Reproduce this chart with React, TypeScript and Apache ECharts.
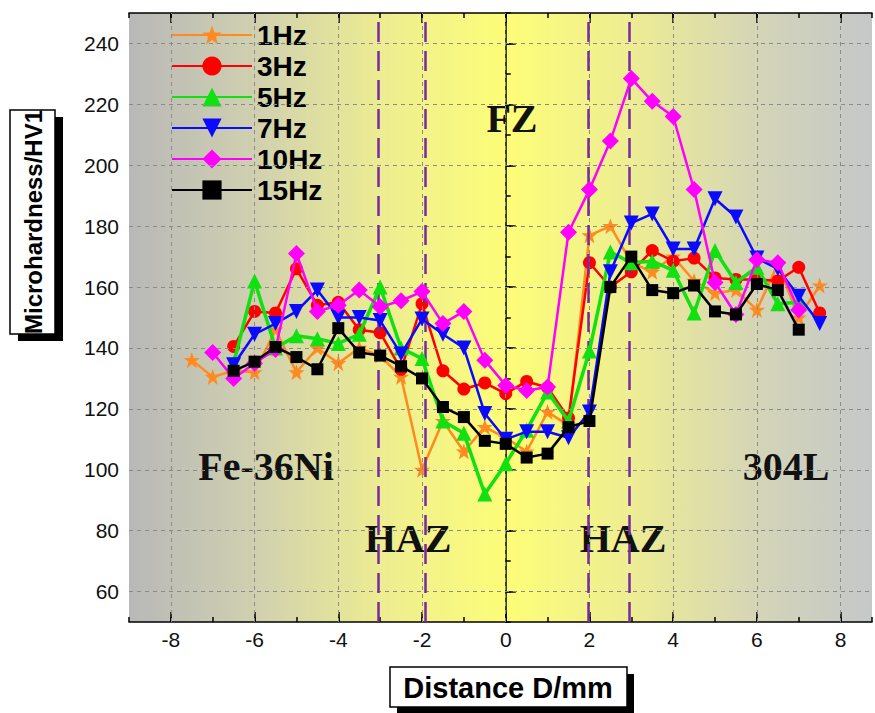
import React, { useEffect, useRef } from 'react';
import * as echarts from 'echarts';

const X_MIN = -9;
const X_MAX = 8.75;
const Y_MIN = 50;
const Y_MAX = 250;
const xMajorTicks = [-8, -6, -4, -2, 0, 2, 4, 6, 8];
const yMajorTicks = [60, 80, 100, 120, 140, 160, 180, 200, 220, 240];
const zoneBoundaries = [-3.05, -1.92, 1.98, 2.96];

const seriesNames = ['1Hz', '3Hz', '5Hz', '7Hz', '10Hz', '15Hz'];

const x1Hz = [-7.5, -7, -6.5, -6, -5.5, -5, -4.5, -4, -3.5, -3, -2.5, -2, -1.5, -1, -0.5, 0, 0.5, 1, 1.5, 2, 2.5, 3, 3.5, 4, 4.5, 5, 5.5, 6, 6.5, 7, 7.5];
const y1Hz = [136, 130.5, 132.5, 132, 146, 132, 140, 135, 140, 137.5, 130.5, 100, 116, 106, 114, 110.5, 106, 119, 114.5, 177, 180, 168, 165, 170, 162, 158, 159, 152.5, 167.5, 150, 160.5];

const x3Hz = [-6.5, -6, -5.5, -5, -4.5, -4, -3.5, -3, -2.5, -2, -1.5, -1, -0.5, 0, 0.5, 1, 1.5, 2, 2.5, 3, 3.5, 4, 4.5, 5, 5.5, 6, 6.5, 7, 7.5];
const y3Hz = [140.5, 152, 151.5, 166, 154, 155, 146, 145, 133, 154.5, 132.5, 126.5, 128.5, 125, 129, 127, 117, 168, 160, 165, 172, 168.5, 169.5, 163, 162.5, 162.5, 162, 166.5, 151.5];

const x5Hz = [-6.5, -6, -5.5, -5, -4.5, -4, -3.5, -3, -2.5, -2, -1.5, -1, -0.5, 0, 0.5, 1, 1.5, 2, 2.5, 3, 3.5, 4, 4.5, 5, 5.5, 6, 6.5, 7];
const y5Hz = [135, 162, 140, 144, 143, 141.5, 144.5, 160, 140, 136.5, 116, 112, 92, 102, 113, 125.5, 116, 139, 171.5, 168, 168.5, 165.5, 151.5, 172, 161.5, 166.5, 154.5, 155];

const x7Hz = [-6.5, -6, -5.5, -5, -4.5, -4, -3.5, -3, -2.5, -2, -1.5, -1, -0.5, 0, 0.5, 1, 1.5, 2, 2.5, 3, 3.5, 4, 4.5, 5, 5.5, 6, 6.5, 7, 7.5];
const y7Hz = [134.5, 144.5, 148, 152, 159, 150, 150, 149, 138, 149.5, 144.5, 140, 118.5, 110, 112.5, 112.5, 110.5, 119, 165, 181, 184, 172.5, 172.5, 189, 183, 169.5, 166, 157, 148];

const x10Hz = [-7, -6.5, -6, -5.5, -5, -4.5, -4, -3.5, -3, -2.5, -2, -1.5, -1, -0.5, 0, 0.5, 1, 1.5, 2, 2.5, 3, 3.5, 4, 4.5, 5, 5.5, 6, 6.5, 7];
const y10Hz = [138.5, 130, 135, 139.5, 171, 152, 154, 159, 153.5, 155.5, 158.5, 148, 152, 136, 127.7, 126, 127.2, 178, 192, 208, 228.5, 221, 216, 192, 161.5, 151, 169, 168, 152.5];

const x15Hz = [-6.5, -6, -5.5, -5, -4.5, -4, -3.5, -3, -2.5, -2, -1.5, -1, -0.5, 0, 0.5, 1, 1.5, 2, 2.5, 3, 3.5, 4, 4.5, 5, 5.5, 6, 6.5, 7];
const y15Hz = [132.5, 135.5, 140.3, 137, 133, 146.5, 138.5, 137.5, 134, 130, 120.6, 117.3, 109.5, 108.5, 104, 105.3, 114, 116, 160, 170, 159, 158, 160.5, 152, 151, 161, 159, 146];

const seriesX = [x1Hz, x3Hz, x5Hz, x7Hz, x10Hz, x15Hz];
const seriesY = [y1Hz, y3Hz, y5Hz, y7Hz, y10Hz, y15Hz];

const regionLabels = ['Fe-36Ni', 'HAZ', 'FZ', 'HAZ', '304L'];

const STAR = 'path://M12,0 L15,8.5 L24,8.5 L17,14 L19.5,23 L12,17.5 L4.5,23 L7,14 L0,8.5 L9,8.5 Z';
const DOWN_TRI = 'path://M0,0 L20,0 L10,17 Z';

const styles = [
  { color: '#ff8a1f', symbol: STAR, size: 16, width: 2.5 },
  { color: '#ff0000', symbol: 'circle', size: 13, width: 2.5 },
  { color: '#11e011', symbol: 'triangle', size: 15, width: 3.5 },
  { color: '#0a0aff', symbol: DOWN_TRI, size: 15, width: 2.5 },
  { color: '#ff00ff', symbol: 'diamond', size: 17, width: 2.5 },
  { color: '#000000', symbol: 'rect', size: 12, width: 2.5 },
];

const SANS = '"Liberation Sans", Arial, sans-serif';
const SERIF = '"Liberation Serif", "Times New Roman", serif';

export default function App() {
  const ref = useRef<HTMLDivElement>(null);

  useEffect(() => {
    if (!ref.current) return;
    const chart = echarts.init(ref.current, undefined, { renderer: 'svg' });

    const baseX = { type: 'value', min: X_MIN, max: X_MAX, interval: 1, splitLine: { show: false } };
    const baseY = { type: 'value', min: Y_MIN, max: Y_MAX, interval: 10, splitLine: { show: false } };

    const dataSeries = seriesNames.map((name, i) => ({
      name,
      type: 'line',
      data: seriesX[i].map((x, j) => [x, seriesY[i][j]]),
      symbol: styles[i].symbol,
      symbolSize: styles[i].size,
      showAllSymbol: true,
      lineStyle: { color: styles[i].color, width: styles[i].width },
      itemStyle: { color: styles[i].color },
      z: 3 + i,
    }));

    const label = (text: string, x: number, y: number) => ({
      type: 'text', x, y, z: 1,
      style: { text, font: `bold 40px ${SERIF}`, fill: '#111', textAlign: 'center', textVerticalAlign: 'middle', align: 'center', verticalAlign: 'middle' },
    });

    const option: any = {
      animation: false,
      backgroundColor: '#ffffff',
      grid: {
        left: 129,
        top: 13,
        bottom: 91,
        right: 0,
        show: true,
        borderWidth: 0,
        backgroundColor: new echarts.graphic.LinearGradient(0, 0, 1, 0, [
          { offset: 0, color: '#b8b8b8' },
          { offset: 0.17, color: '#d0d0b0' },
          { offset: 0.35, color: '#eeee90' },
          { offset: 0.51, color: '#fdfd78' },
          { offset: 0.67, color: '#eeee92' },
          { offset: 0.85, color: '#d4d4b8' },
          { offset: 1, color: '#c4c8c8' },
        ]),
      },
      legend: {
        data: seriesNames,
        orient: 'vertical',
        left: 166,
        top: 16,
        itemWidth: 80,
        itemHeight: 24,
        itemGap: 3,
        textStyle: { fontFamily: SANS, fontWeight: 'bold', fontSize: 28, color: '#000', lineHeight: 28 },
      },
      xAxis: [
        {
          ...baseX,
          position: 'bottom',
          axisLine: { show: true, lineStyle: { color: '#000', width: 1.5 } },
          axisTick: { show: true, inside: true, length: 5, lineStyle: { color: '#000', width: 1.5 } },
          axisLabel: {
            show: true,
            margin: 7,
            fontFamily: SANS,
            fontSize: 21,
            color: '#111',
            formatter: (v: number) => (xMajorTicks.indexOf(v) >= 0 ? String(v) : ''),
          },
        },
        {
          ...baseX,
          position: 'bottom',
          axisLine: { show: false },
          axisTick: { show: true, inside: true, length: 10, customValues: xMajorTicks, lineStyle: { color: '#000', width: 1.5 } },
          axisLabel: { show: false },
        },
        {
          ...baseX,
          position: 'top',
          axisLine: { show: true, lineStyle: { color: '#000', width: 1.5 } },
          axisTick: { show: true, inside: true, length: 5, lineStyle: { color: '#000', width: 1.5 } },
          axisLabel: { show: false },
        },
        {
          ...baseX,
          position: 'top',
          axisLine: { show: false },
          axisTick: { show: true, inside: true, length: 10, customValues: xMajorTicks, lineStyle: { color: '#000', width: 1.5 } },
          axisLabel: { show: false },
        },
      ],
      yAxis: [
        {
          ...baseY,
          position: 'left',
          axisLine: { show: true, lineStyle: { color: '#000', width: 1.5 } },
          axisTick: { show: true, inside: true, length: 5, lineStyle: { color: '#000', width: 1.5 } },
          axisLabel: {
            show: true,
            margin: 10,
            fontFamily: SANS,
            fontSize: 21,
            color: '#111',
            formatter: (v: number) => (yMajorTicks.indexOf(v) >= 0 ? String(v) : ''),
          },
        },
        {
          ...baseY,
          position: 'left',
          axisLine: { show: false },
          axisTick: { show: true, inside: true, length: 10, customValues: yMajorTicks, lineStyle: { color: '#000', width: 1.5 } },
          axisLabel: { show: false },
        },
      ],
      series: [
        {
          name: 'grid-lines',
          type: 'line',
          data: [],
          z: 1,
          silent: true,
          markLine: {
            silent: true,
            symbol: ['none', 'none'],
            label: { show: false },
            lineStyle: { type: [4, 4], color: '#8a8a8a', width: 1 },
            data: [
              ...xMajorTicks.map((v) => ({ xAxis: v })),
              ...yMajorTicks.map((v) => ({ yAxis: v })),
            ],
          },
        },
        {
          name: 'zones',
          type: 'line',
          data: [],
          z: 2,
          silent: true,
          markLine: {
            silent: true,
            symbol: ['none', 'none'],
            label: { show: false },
            lineStyle: { type: [20, 9], color: '#7a2aa0', width: 2.5 },
            data: zoneBoundaries.map((v) => ({ xAxis: v })),
          },
        },
        ...dataSeries,
      ],
      graphic: [
        label(regionLabels[0], 266, 466),
        label(regionLabels[1], 408, 538),
        label(regionLabels[2], 512, 118),
        label(regionLabels[3], 623, 538),
        label(regionLabels[4], 786, 466),
        { type: 'rect', shape: { x: 18, y: 117, width: 45, height: 224 }, style: { fill: '#000' } },
        { type: 'rect', shape: { x: 10, y: 110, width: 45, height: 224 }, style: { fill: '#fff', stroke: '#000', lineWidth: 1.5 } },
        {
          type: 'text', x: 33, y: 222, rotation: Math.PI / 2,
          style: { text: 'Microhardness/HV1', font: `bold 24px ${SANS}`, fill: '#000', textAlign: 'center', textVerticalAlign: 'middle', align: 'center', verticalAlign: 'middle' },
        },
        { type: 'rect', shape: { x: 397, y: 674, width: 237, height: 40 }, style: { fill: '#000' } },
        { type: 'rect', shape: { x: 390, y: 667, width: 237, height: 40 }, style: { fill: '#fff', stroke: '#000', lineWidth: 1.5 } },
        {
          type: 'text', x: 508, y: 688,
          style: { text: 'Distance D/mm', font: `bold 29px ${SANS}`, fill: '#000', textAlign: 'center', textVerticalAlign: 'middle', align: 'center', verticalAlign: 'middle' },
        },
      ],
    };

    chart.setOption(option);
    return () => chart.dispose();
  }, []);

  return <div ref={ref} style={{ position: 'fixed', left: 0, top: 0, width: 875, height: 713 }} />;
}
